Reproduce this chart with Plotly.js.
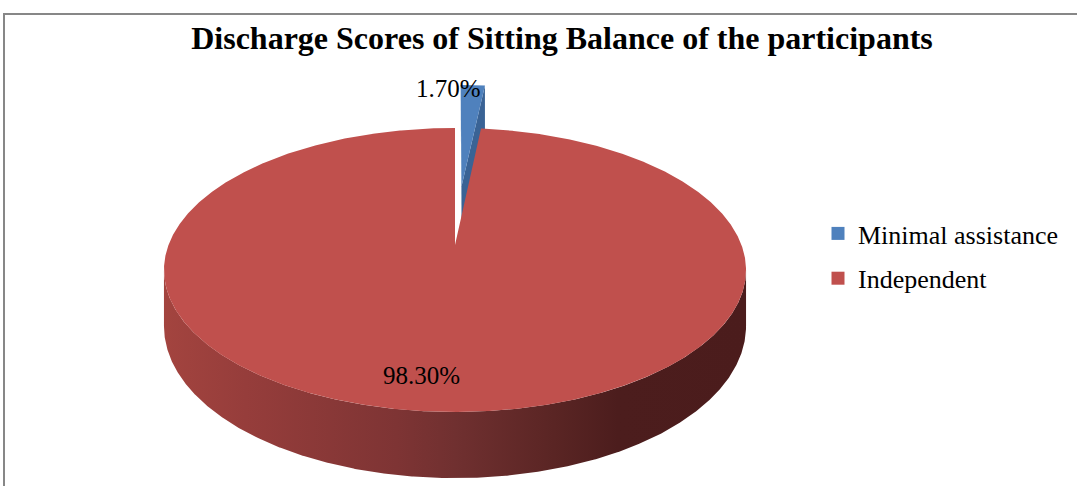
<!DOCTYPE html>
<html>
<head>
<meta charset="utf-8">
<script src="https://cdn.plot.ly/plotly-3.0.1.min.js"></script>
<style>
  html, body { margin: 0; padding: 0; background: #ffffff; }
  #chart { width: 1077px; height: 486px; }
</style>
</head>
<body>
<div id="chart"></div>
<script>
// ---------------- data ----------------
const categories = ['Minimal assistance', 'Independent'];
const percentages = [1.7, 98.3];
const valueLabels = ['1.70%', '98.30%'];

// ---------------- style ----------------
const TITLE = 'Discharge Scores of Sitting Balance of the participants';
const topColors = ['#4F81BD', '#C0504D'];
const cutColorsLeft = ['#4A79B2', '#A8433F'];
const cutColorsRight = ['#3A6395', '#8A3835'];
const sideScales = [
  [[0, '#4A78B0'], [1, '#2E4F78']],
  [[0, '#A3443F'], [0.14, '#963D3B'], [0.40, '#7E3434'], [0.5, '#703030'],
   [0.67, '#5A2524'], [0.78, '#4C1D1D'], [1, '#4B1C1C']]
];
const explodeBy = [0.463, 0];          // slice pull-out in pie radius units
const labelPos = [[448, 88], [421, 375]]; // label centres (pixel axes)
const FONT = 'Liberation Serif, Times New Roman, serif';

// 3D pie projection (pixel-based axes)
const CX = 455, CY = 245, A = 286.5, B = 137.6, K = 0.176, DEPTH = 54.5;
const STEP = 0.25;

function project(u, v, down) {
  const w = 1 + K * v;
  return [CX + A * u / w, CY - B * v / w + (down || 0) / w];
}
const rad = d => d * Math.PI / 180;
function rimPoint(deg, ox, oy, down) {
  return project(ox + Math.sin(rad(deg)), oy + Math.cos(rad(deg)), down);
}
function arcPts(a, b, ox, oy, down) {
  const pts = [];
  const n = Math.max(2, Math.ceil(Math.abs(b - a) / STEP));
  for (let i = 0; i <= n; i++) pts.push(rimPoint(a + (b - a) * i / n, ox, oy, down));
  return pts;
}
function polyTrace(pts, fill, extra) {
  const t = {
    type: 'scatter', mode: 'lines', fill: 'toself',
    x: pts.map(p => p[0]), y: pts.map(p => p[1]),
    fillcolor: fill, line: { width: 0, color: fill },
    hoverinfo: 'skip', showlegend: false
  };
  return Object.assign(t, extra || {});
}

const total = percentages.reduce((s, v) => s + v, 0);
const silA = Math.acos(-K) * 180 / Math.PI;  // silhouette angle
const silB = 360 - silA;

const sideTraces = [], cutTraces = [], topTraces = [];
let start = 0;
percentages.forEach((val, i) => {
  const sweep = 360 * val / total;
  const a = start, b = start + sweep;
  const mid = rad((a + b) / 2);
  const ox = explodeBy[i] * Math.sin(mid), oy = explodeBy[i] * Math.cos(mid);
  const c0 = project(ox, oy, 0), c1 = project(ox, oy, DEPTH);

  // outer side (only the front, visible part)
  const s = Math.max(a, silA), e = Math.min(b, silB);
  if (e > s) {
    const topArc = arcPts(s, e, ox, oy, 0);
    const botArc = arcPts(e, s, ox, oy, DEPTH);
    const pts = topArc.concat(botArc);
    pts.push(topArc[0]);
    sideTraces.push(polyTrace(pts, sideScales[i][0][1], {
      fillgradient: { type: 'horizontal', colorscale: sideScales[i] }
    }));
  }
  // radial cut faces for exploded slices
  if (explodeBy[i] > 0) {
    const la = rimPoint(a, ox, oy, 0), lb = rimPoint(a, ox, oy, DEPTH);
    cutTraces.push(polyTrace([c0, la, lb, c1, c0], cutColorsLeft[i]));
    const ra = rimPoint(b, ox, oy, 0), rb = rimPoint(b, ox, oy, DEPTH);
    cutTraces.push(polyTrace([c0, ra, rb, c1, c0], cutColorsRight[i]));
  }
  // top face
  const pts = [c0].concat(arcPts(a, b, ox, oy, 0));
  pts.push(c0);
  topTraces.push(polyTrace(pts, topColors[i]));
  start = b;
});

// legend entries
const legendTraces = categories.map((name, i) => ({
  type: 'scatter', mode: 'markers', x: [null], y: [null], name: name,
  legendgroup: 'g' + i,
  marker: { symbol: 'square', size: 13, color: topColors[i] },
  hoverinfo: 'skip'
}));

const annotations = valueLabels.map((t, i) => ({
  text: t, x: labelPos[i][0], y: labelPos[i][1], xref: 'x', yref: 'y',
  showarrow: false, xanchor: 'center', yanchor: 'middle',
  font: { family: FONT, size: 25, color: '#000000' }
}));

const layout = {
  width: 1077, height: 486,
  margin: { l: 0, r: 0, t: 0, b: 0 },
  paper_bgcolor: '#ffffff', plot_bgcolor: '#ffffff',
  xaxis: { range: [0, 1077], visible: false, fixedrange: true },
  yaxis: { range: [486, 0], visible: false, fixedrange: true },
  title: {
    text: '<b>' + TITLE + '</b>',
    font: { family: FONT, size: 32, color: '#000000' },
    x: 562 / 1077, xanchor: 'center', y: 1 - 38 / 486, yanchor: 'middle'
  },
  showlegend: true,
  legend: {
    x: 818 / 1077, xanchor: 'left', y: 1 - 210 / 486, yanchor: 'top',
    traceorder: 'grouped', tracegroupgap: 8,
    font: { family: FONT, size: 26, color: '#000000' },
    bgcolor: 'rgba(0,0,0,0)'
  },
  annotations: annotations,
  shapes: [{
    type: 'path', xref: 'paper', yref: 'paper',
    path: 'M ' + (4 / 1077) + ',-0.1 L ' + (4 / 1077) + ',' + (1 - 14 / 486) + ' L 1.1,' + (1 - 14 / 486),
    line: { color: '#878787', width: 2 }
  }]
};

Plotly.newPlot('chart', sideTraces.concat(cutTraces, topTraces, legendTraces), layout,
  { staticPlot: true, displayModeBar: false });
</script>
</body>
</html>
